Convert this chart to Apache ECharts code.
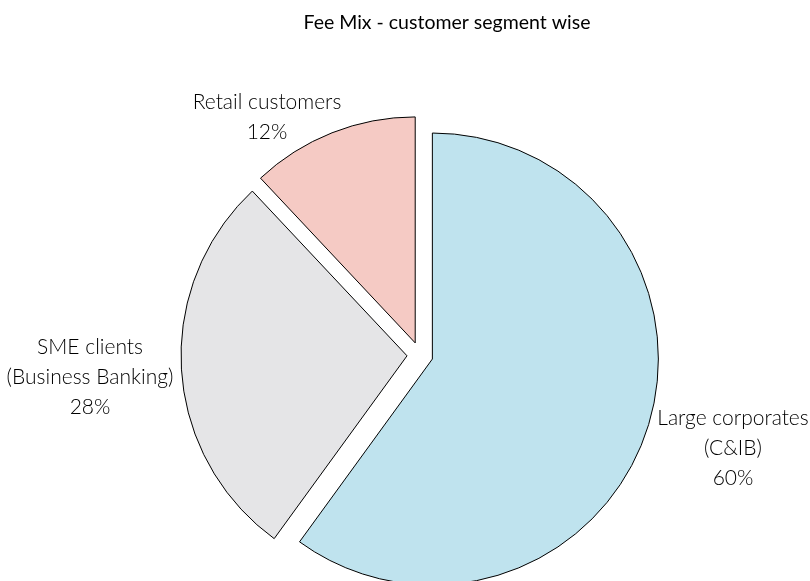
<!DOCTYPE html>
<html>
<head>
<meta charset="utf-8">
<title>Fee Mix - customer segment wise</title>
<script src="https://cdn.jsdelivr.net/npm/echarts@6/dist/echarts.min.js"></script>
<style>
  html, body { margin: 0; padding: 0; background: #fff; }
  #chart { width: 810px; height: 581px; }
</style>
</head>
<body>
<div id="chart"></div>
<script>
// data
var segments = ['Large corporates\n(C&IB)', 'SME clients\n(Business Banking)', 'Retail customers'];
var shares = [60, 28, 12];
var colors = ['#bfe3ee', '#e5e5e7', '#f5cac4'];

// where each label sits (center of text block)
var labelSpots = [[733, 448], [90, 377], [267, 117]];

var chart = echarts.init(document.getElementById('chart'));

var pieData = [];
var labels = [];
for (var i = 0; i < shares.length; i++) {
  pieData.push({
    name: segments[i],
    value: shares[i],
    selected: true,
    itemStyle: { color: colors[i] }
  });
  // slice labels, placed by hand like the original
  labels.push({
    type: 'text',
    x: labelSpots[i][0],
    y: labelSpots[i][1],
    silent: true,
    style: {
      text: segments[i] + '\n' + shares[i] + '%',
      align: 'center',
      verticalAlign: 'middle',
      fontFamily: 'Lato',
      fontWeight: 300,
      fontSize: 21,
      lineHeight: 30,
      fill: '#000'
    }
  });
}

var option = {
  animation: false,
  title: {
    text: 'Fee Mix - customer segment wise',
    left: 442,
    top: 8,
    textAlign: 'center',
    textStyle: {
      fontFamily: 'Lato',
      fontWeight: 'normal',
      fontSize: 19.5,
      color: '#000'
    }
  },
  graphic: labels,
  series: [{
    type: 'pie',
    center: [420, 355],
    radius: [0, 226],
    startAngle: 90,
    clockwise: true,
    selectedMode: 'multiple',
    selectedOffset: 13,
    itemStyle: {
      borderColor: '#000',
      borderWidth: 1
    },
    emphasis: { disabled: true },
    select: { itemStyle: { borderColor: '#000', borderWidth: 1 } },
    label: { show: false },
    labelLine: { show: false },
    data: pieData
  }]
};

chart.setOption(option);
</script>
</body>
</html>
